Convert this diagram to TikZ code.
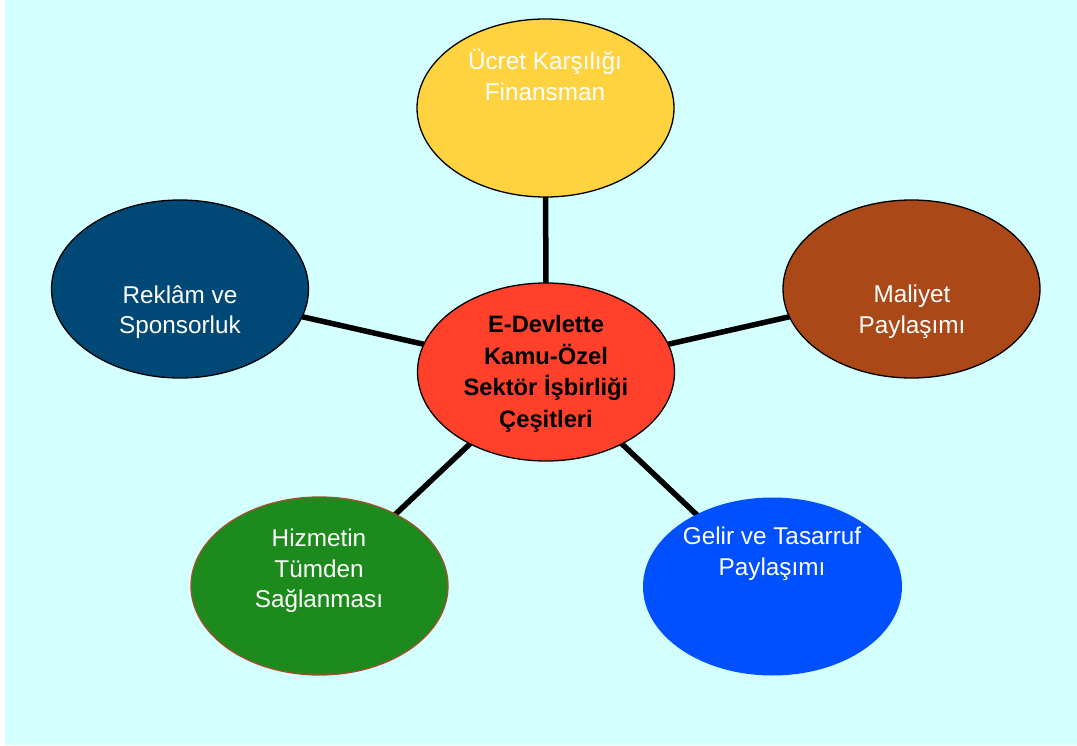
\documentclass[tikz,border=0pt]{standalone}
\usepackage{fontspec}
\setmainfont{Liberation Sans}
\usetikzlibrary{shapes.geometric,backgrounds}
\definecolor{bgcyan}{HTML}{D4FFFF}
\definecolor{cyellow}{HTML}{FFD23F}
\definecolor{cred}{HTML}{FF402A}
\definecolor{cnavy}{HTML}{004875}
\definecolor{cbrown}{HTML}{AA4818}
\definecolor{cgreen}{HTML}{1C8A1C}
\definecolor{cblue}{HTML}{0050FF}
\definecolor{cgreenedge}{HTML}{A0522D}
\tikzset{
  oval/.style={ellipse, inner sep=0pt, minimum width=257pt, minimum height=178pt, line width=1.3pt},
  lbl/.style={align=center, text=white, font=\fontsize{24.3}{30.5}\selectfont, inner sep=0pt},
  clbl/.style={align=center, text=black, font=\fontsize{23.7}{31.7}\selectfont\bfseries, inner sep=0pt},
  spoke/.style={line width=5.5pt, black}
}
\begin{document}
\begin{tikzpicture}[x=1pt,y=-1pt]
\useasboundingbox (0,0) rectangle (1077,746);
\node[oval, fill=cyellow, draw=black] (fin) at (545.5,108) {};
\node[oval, fill=cred, draw=black] (hub) at (546,372) {};
\node[oval, fill=cnavy, draw=black] (rek) at (180,289) {};
\node[oval, fill=cbrown, draw=black] (mal) at (911.5,289) {};
\node[oval, fill=cgreen, draw=cgreenedge] (hiz) at (319.5,586) {};
\node[oval, fill=cblue, minimum width=259pt] (gel) at (772.5,586.5) {};
\node[lbl] (tfin) at (545,75) {Ücret Karşılığı\\Finansman};
\node[clbl] (thub) at (546,374) {E-Devlette\\Kamu-Özel\\Sektör İşbirliği\\Çeşitleri};
\node[lbl] (trek) at (180,312) {Reklâm ve\\Sponsorluk};
\node[lbl] (tmal) at (912,312) {Maliyet\\Paylaşımı};
\node[lbl] (thiz) at (319,571) {Hizmetin\\Tümden\\Sağlanması};
\node[lbl] (tgel) at (772,554) {Gelir ve Tasarruf\\Paylaşımı};
\begin{pgfonlayer}{background}
\fill[white] (0,0) rectangle (1077,746);
\fill[bgcyan] (5,0) rectangle (1077,745);
\draw[spoke] (hub.center) -- (fin.center);
\draw[spoke] (hub.center) -- (rek.center);
\draw[spoke] (hub.center) -- (mal.center);
\draw[spoke] (hub.center) -- (hiz.center);
\draw[spoke] (hub.center) -- (gel.center);
\end{pgfonlayer}
\end{tikzpicture}
\end{document}
